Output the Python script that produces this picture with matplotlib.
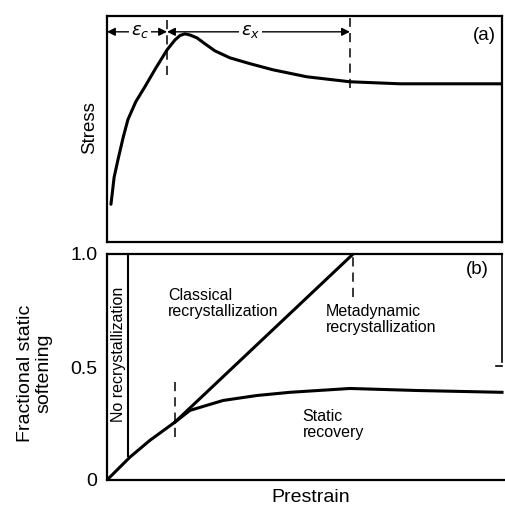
import matplotlib
matplotlib.use("Agg")
import matplotlib.pyplot as plt

plt.rcParams['font.family'] = ['Liberation Sans', 'DejaVu Sans']
plt.rcParams['mathtext.fontset'] = 'dejavusans'

# (a) flow curve: stress vs strain (normalised units)
strain_a = [0.010, 0.013, 0.018, 0.028, 0.041, 0.053, 0.073, 0.096, 0.124, 0.152,
            0.172, 0.185, 0.197, 0.210, 0.228, 0.248, 0.273, 0.311, 0.362, 0.420,
            0.506, 0.615, 0.742, 1.0]
stress_a = [0.167, 0.211, 0.286, 0.366, 0.463, 0.542, 0.621, 0.687, 0.771, 0.850,
            0.894, 0.914, 0.921, 0.916, 0.903, 0.877, 0.846, 0.815, 0.789, 0.762,
            0.731, 0.709, 0.700, 0.700]
eps_c = 0.152      # critical strain
eps_x = 0.615      # strain to steady state

# (b) fractional static softening vs prestrain
prestrain_rec = [0.0, 0.058, 0.109, 0.172, 0.210, 0.294, 0.380, 0.463, 0.615, 0.785, 1.0]
softening_rec = [0.0, 0.101, 0.176, 0.256, 0.308, 0.352, 0.374, 0.388, 0.405, 0.396, 0.388]
prestrain_cls = [0.172, 0.623]
softening_cls = [0.256, 1.0]
no_rex_limit = 0.053
yticks_b = [0, 0.5, 1.0]
yticklabels_b = ["0", "0.5", "1.0"]

W, H = 506, 511
fig = plt.figure(figsize=(W / 100, H / 100), dpi=100)

def box(l, r, t, b):
    return [l / W, 1 - b / H, (r - l) / W, (b - t) / H]

lw_curve = 2.2
lw_spine = 1.6
dash = (0, (6, 4))

# ---- panel (a)
ax1 = fig.add_axes(box(107, 502, 16, 242))
ax1.plot(strain_a, stress_a, color='k', lw=lw_curve, solid_capstyle='round',
         solid_joinstyle='round')
ax1.plot([eps_c, eps_c], [0.74, 0.99], color='k', lw=1.1, linestyle=dash)
ax1.plot([eps_x, eps_x], [0.68, 0.99], color='k', lw=1.1, linestyle=dash)
arr_y = 0.93
ax1.annotate('', xy=(0.0, arr_y), xytext=(eps_c, arr_y),
             arrowprops=dict(arrowstyle='<|-|>', color='k', lw=1.0,
                             shrinkA=0, shrinkB=0, mutation_scale=12))
ax1.annotate('', xy=(eps_c, arr_y), xytext=(eps_x, arr_y),
             arrowprops=dict(arrowstyle='<|-|>', color='k', lw=1.0,
                             shrinkA=0, shrinkB=0, mutation_scale=12))
ax1.text(eps_c * 0.55, arr_y, r'$\varepsilon_c$', ha='center', va='center', fontsize=13,
         bbox=dict(facecolor='white', edgecolor='none', pad=1))
ax1.text((eps_c + eps_x) / 2 - 0.02, arr_y, r'$\varepsilon_x$', ha='center', va='center',
         fontsize=13, bbox=dict(facecolor='white', edgecolor='none', pad=1))
ax1.text(0.955, 0.915, '(a)', ha='center', va='center', fontsize=13.5)
ax1.set_xlim(0, 1)
ax1.set_ylim(0, 1)
ax1.set_xticks([])
ax1.set_yticks([])
for s in ax1.spines.values():
    s.set_linewidth(lw_spine)
fig.text(90 / W, 1 - 128 / H, 'Stress', rotation=90, ha='center', va='center', fontsize=13.5)

# ---- panel (b)
ax2 = fig.add_axes(box(107, 506, 254, 480))
ax2.set_xlim(0, 399 / 395)
ax2.set_ylim(0, 1)
ax2.plot(prestrain_rec, softening_rec, color='k', lw=lw_curve, solid_joinstyle='round')
ax2.plot(prestrain_cls, softening_cls, color='k', lw=lw_curve)
ax2.plot([no_rex_limit, no_rex_limit], [0.105, 1.0], color='k', lw=1.5)
ax2.plot([prestrain_cls[0]] * 2, [0.19, 0.455], color='k', lw=1.1, linestyle=dash)
ax2.plot([prestrain_cls[1]] * 2, [0.81, 1.0], color='k', lw=1.1, linestyle=dash)
# partial right border
ax2.plot([1.0, 1.0], [0.52, 1.0], color='k', lw=1.2, clip_on=False)
ax2.plot([0.985, 1.0], [0.503, 0.503], color='k', lw=1.2, clip_on=False)

ax2.text(no_rex_limit / 2 + 0.002, 0.555, 'No recrystallization', rotation=90,
         ha='center', va='center', fontsize=11.5)
ax2.text(0.155, 0.78, 'Classical\nrecrystallization', ha='left', va='center',
         fontsize=11.5, linespacing=1.05)
ax2.text(0.553, 0.71, 'Metadynamic\nrecrystallization', ha='left', va='center',
         fontsize=11.5, linespacing=1.05)
ax2.text(0.495, 0.245, 'Static\nrecovery', ha='left', va='center',
         fontsize=11.5, linespacing=1.05)
ax2.text(0.938, 0.93, '(b)', ha='center', va='center', fontsize=13.5)

ax2.set_xticks([])
ax2.set_yticks(yticks_b)
ax2.set_yticklabels(yticklabels_b, fontsize=14)
ax2.tick_params(axis='y', length=0, pad=7)
ax2.spines['right'].set_visible(False)
for s in ('left', 'top', 'bottom'):
    ax2.spines[s].set_linewidth(lw_spine)
ax2.spines['top'].set_bounds(0, 1.0)

fig.text(35 / W, 1 - 373 / H, 'Fractional static\nsoftening', rotation=90,
         ha='center', va='center', fontsize=14, multialignment='center', linespacing=1.1)
fig.text(311 / W, 1 - 497 / H, 'Prestrain', ha='center', va='center', fontsize=14)

fig.savefig('out.png', dpi=100)
